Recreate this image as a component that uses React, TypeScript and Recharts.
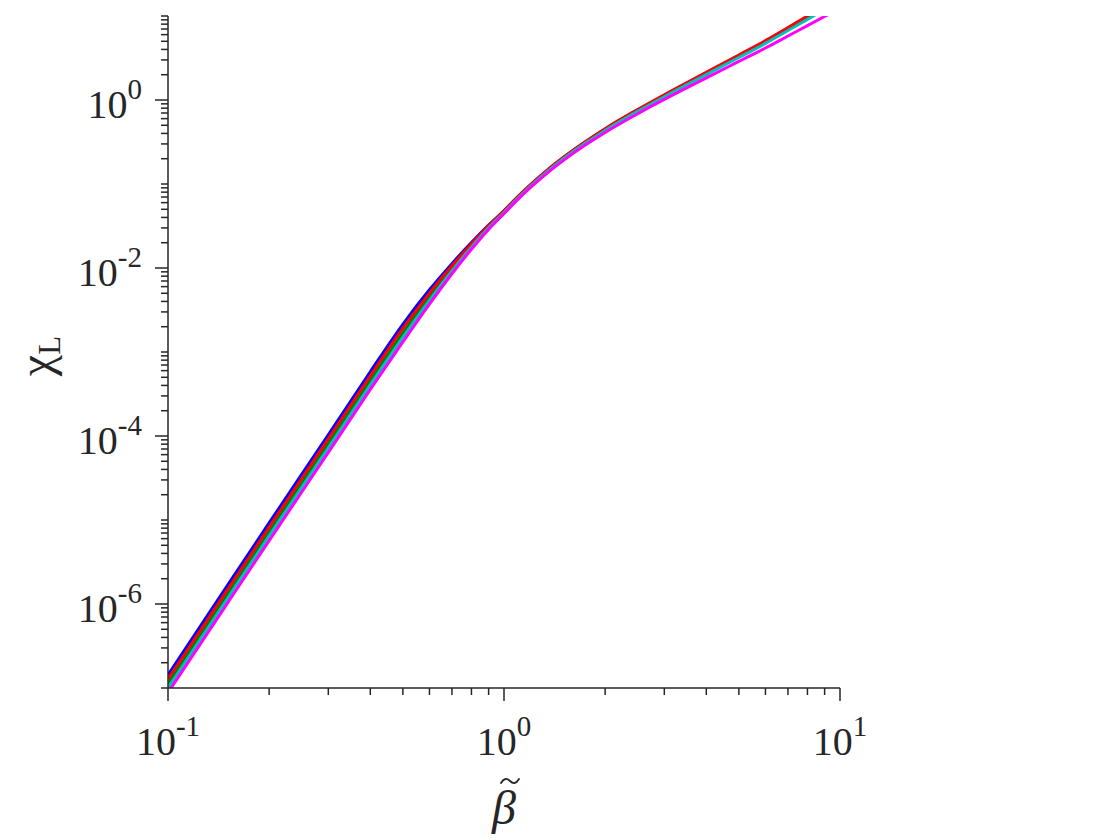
import React from "react";
import { LineChart, Line, XAxis, YAxis } from "recharts";

// beta-tilde sample points shared by all curves
const BETA = [
  0.1, 0.15, 0.2, 0.3, 0.4, 0.5, 0.6, 0.7, 0.8, 0.9, 1.0, 1.1, 1.2, 1.35, 1.5,
  1.75, 2.0, 2.5, 3.0, 4.0, 5.0, 6.0, 7.0, 8.0, 9.0, 10.0,
];

// chi_L, one list per curve
const CHI_BLUE = [
  1.429e-7, 1.641e-6, 9.23e-6, 1.035e-4, 5.82e-4, 2.138e-3, 5.5e-3, 0.01127,
  0.02009, 0.03236, 0.048, 0.0706, 0.0979, 0.1472, 0.2051, 0.3184, 0.4508,
  0.7621, 1.14, 2.104, 3.381, 5.0, 7.145, 9.772, 12.88, 16.41,
];
const CHI_GREEN = [
  1.122e-7, 1.288e-6, 7.24e-6, 8.13e-5, 4.57e-4, 1.679e-3, 4.52e-3, 9.89e-3,
  0.01854, 0.03105, 0.0469, 0.0693, 0.0964, 0.1452, 0.2028, 0.3141, 0.4446,
  0.7516, 1.125, 2.07, 3.319, 4.909, 6.998, 9.55, 12.59, 16.03,
];
const CHI_RED = [
  1.274e-7, 1.462e-6, 8.22e-6, 9.23e-5, 5.19e-4, 1.905e-3, 5.01e-3, 0.01064,
  0.01941, 0.032, 0.048, 0.071, 0.0986, 0.1486, 0.207, 0.321, 0.456, 0.771,
  1.156, 2.133, 3.436, 5.093, 7.278, 10.0, 13.18, 16.79,
];
const CHI_CYAN = [
  1.0e-7, 1.148e-6, 6.46e-6, 7.24e-5, 4.07e-4, 1.496e-3, 4.12e-3, 9.25e-3,
  0.0177, 0.03006, 0.0458, 0.0678, 0.0942, 0.1419, 0.1982, 0.3069, 0.4345,
  0.7328, 1.094, 2.009, 3.206, 4.721, 6.714, 9.12, 12.02, 15.31,
];
const CHI_MAGENTA = [
  8.81e-8, 1.012e-6, 5.69e-6, 6.38e-5, 3.59e-4, 1.318e-3, 3.715e-3, 8.55e-3,
  0.01671, 0.0288, 0.0443, 0.0655, 0.091, 0.1368, 0.1897, 0.2924, 0.411,
  0.687, 1.016, 1.832, 2.877, 4.159, 5.781, 7.674, 9.886, 12.3,
];

// decades on each axis, and which of them carry a label
const X_DECADES = [-1, 0];
const X_LABEL_EXP = [-1, 0, 1];
const Y_DECADES = [-7, -6, -5, -4, -3, -2, -1, 0];
const Y_LABEL_EXP = [-6, -4, -2, 0];

const SERIES = [
  { key: "blue", color: "#0000ff", values: CHI_BLUE },
  { key: "green", color: "#008000", values: CHI_GREEN },
  { key: "red", color: "#ff0000", values: CHI_RED },
  { key: "cyan", color: "#00bfbf", values: CHI_CYAN },
  { key: "magenta", color: "#ff00ff", values: CHI_MAGENTA },
];

const AXIS_COLOR = "#262626";
const FONT = "Liberation Serif";

const logTicks = (decades: number[]) => {
  const out: number[] = [];
  decades.forEach((d) => {
    for (let m = 1; m <= 9; m++) out.push(m * Math.pow(10, d));
  });
  out.push(Math.pow(10, decades[decades.length - 1] + 1));
  return out;
};

const expOf = (v: number) => {
  const e = Math.log10(v);
  return Math.abs(e - Math.round(e)) < 1e-6 ? Math.round(e) : null;
};

// "10" with a raised exponent, like the original tick labels
const PowerLabel = ({ x, y, anchor, e }: any) => (
  <text x={x} y={y} textAnchor={anchor} fontFamily={FONT} fill={AXIS_COLOR}>
    <tspan fontSize={40}>10</tspan>
    <tspan fontSize={29} dy={-19}>{String(e)}</tspan>
  </text>
);

const XTick = (props: any) => {
  const { x, y, payload } = props;
  const e = expOf(payload.value);
  const major = e !== null && X_LABEL_EXP.includes(e);
  return (
    <g>
      <line x1={x} x2={x} y1={y} y2={y + (major ? 13 : 7)} stroke={AXIS_COLOR} strokeWidth={1.5} />
      {major && <PowerLabel x={x} y={y + 67} anchor="middle" e={e} />}
    </g>
  );
};

const YTick = (props: any) => {
  const { x, y, payload } = props;
  const e = expOf(payload.value);
  const major = e !== null && Y_LABEL_EXP.includes(e);
  return (
    <g>
      <line x1={x} x2={x - (major ? 13 : 7)} y1={y} y2={y} stroke={AXIS_COLOR} strokeWidth={1.5} />
      {major && <PowerLabel x={x - 26} y={y + 18} anchor="end" e={e} />}
    </g>
  );
};

const XTitle = (props: any) => {
  const { viewBox } = props;
  const cx = viewBox.x + viewBox.width / 2;
  const by = viewBox.y + 136;
  // tilde accent drawn as a small wave above the beta
  const tx = cx - 3;
  const ty = by - 44;
  return (
    <g>
      <text x={cx} y={by} textAnchor="middle" fontFamily={FONT} fontStyle="italic" fontSize={48} fill={AXIS_COLOR}>
        {"\u03B2"}
      </text>
      <path
        d={`M ${tx} ${ty + 3} c 3 -5 6 -5 9 -2 s 6 3 9 -2`}
        fill="none"
        stroke={AXIS_COLOR}
        strokeWidth={1.8}
        strokeLinecap="round"
      />
    </g>
  );
};

const YTitle = (props: any) => {
  const { viewBox } = props;
  const cx = 52;
  const cy = viewBox.y + viewBox.height / 2 + 4;
  return (
    <text x={cx} y={cy} transform={`rotate(-90 ${cx} ${cy})`} textAnchor="middle" fontFamily={FONT} fill={AXIS_COLOR}>
      <tspan fontSize={48}>{"\u03C7"}</tspan>
      <tspan fontSize={31} dy={8}>L</tspan>
    </text>
  );
};

export default function App() {
  const data = BETA.map((b, i) => {
    const row: any = { beta: b };
    SERIES.forEach((s) => (row[s.key] = s.values[i]));
    return row;
  });

  return (
    <div style={{ position: "absolute", left: 0, top: 0, background: "#fff" }}>
      <LineChart
        width={1120}
        height={840}
        data={data}
        margin={{ top: 16, right: 280, bottom: 0, left: 0 }}
      >
        <XAxis
          dataKey="beta"
          type="number"
          scale="log"
          domain={[0.1, 10]}
          allowDataOverflow
          ticks={logTicks(X_DECADES)}
          interval={0}
          height={152}
          tickSize={0}
          tickMargin={0}
          tickLine={false}
          axisLine={{ stroke: AXIS_COLOR, strokeWidth: 1.5 }}
          tick={<XTick />}
          label={<XTitle />}
        />
        <YAxis
          type="number"
          scale="log"
          domain={[1e-7, 10]}
          allowDataOverflow
          ticks={logTicks(Y_DECADES)}
          interval={0}
          width={168}
          tickSize={0}
          tickMargin={0}
          tickLine={false}
          axisLine={{ stroke: AXIS_COLOR, strokeWidth: 1.5 }}
          tick={<YTick />}
          label={<YTitle />}
        />
        {SERIES.map((s) => (
          <Line
            key={s.key}
            dataKey={s.key}
            type="monotone"
            stroke={s.color}
            strokeWidth={3}
            dot={false}
            isAnimationActive={false}
          />
        ))}
      </LineChart>
    </div>
  );
}
